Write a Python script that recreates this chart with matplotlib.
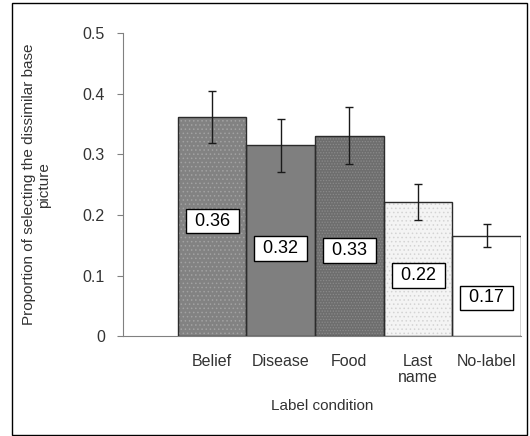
import matplotlib.pyplot as plt
from matplotlib.patches import Rectangle
import numpy as np

# data
conditions = ['Belief', 'Disease', 'Food', 'Last\nname', 'No-label']
proportion = [0.362, 0.315, 0.331, 0.221, 0.166]
errors = [0.043, 0.044, 0.047, 0.030, 0.019]
value_labels = ['0.36', '0.32', '0.33', '0.22', '0.17']

# styles
face_cols = ['#828282', '#7f7f7f', '#6e6e6e', '#f4f4f4', '#ffffff']
hatch_cols = ['#a2a2a2', '#7f7f7f', '#8a8a8a', '#d4d4d4', '#ffffff']
hatches = ['....', None, '......', '....', None]
label_y = [0.19, 0.145, 0.142, 0.10, 0.063]

plt.rcParams['font.family'] = 'Liberation Sans'
plt.rcParams['hatch.linewidth'] = 0.6

fig = plt.figure(figsize=(5.3, 4.36), dpi=100)
ax = fig.add_axes([0.232, 0.229, 0.751, 0.695])

x = np.arange(len(conditions))
# hatch layer, then outline layer
for i in range(len(x)):
    ax.bar(x[i], proportion[i], width=1.0, color=face_cols[i],
           edgecolor=hatch_cols[i], hatch=hatches[i], linewidth=0, zorder=2)
ax.bar(x, proportion, width=1.0, fill=False, edgecolor='#2b2b2b',
       linewidth=1.0, zorder=3)
ax.errorbar(x, proportion, yerr=errors, fmt='none', ecolor='#1a1a1a',
            elinewidth=1.0, capsize=3, capthick=1.0, zorder=4)

for i in range(len(x)):
    ax.text(x[i], label_y[i], ' ' + value_labels[i] + ' ', ha='center', va='center',
            fontsize=13, color='black', zorder=5,
            bbox=dict(boxstyle='square,pad=0.22', fc='white', ec='black', lw=1))

ax.set_xlim(-1.3, 4.5)
ax.set_ylim(0, 0.5)
ax.set_yticks([0, 0.1, 0.2, 0.3, 0.4, 0.5])
ax.set_yticklabels(['0', '0.1', '0.2', '0.3', '0.4', '0.5'])
ax.set_xticks(x)
ax.set_xticklabels(conditions, linespacing=1.05)
ax.tick_params(axis='y', direction='out', length=4, color='#808080',
               labelsize=11.5, labelcolor='#333333', pad=9)
ax.tick_params(axis='x', length=0, labelsize=11.5, labelcolor='#333333', pad=13)

for s in ['top', 'right']:
    ax.spines[s].set_visible(False)
ax.spines['left'].set_color('#808080')
ax.spines['bottom'].set_color('#808080')

ax.set_ylabel('Proportion of selecting the dissimilar base\npicture',
              fontsize=11, color='#333333', labelpad=23, linespacing=1.05)
ax.set_xlabel('Label condition', fontsize=11, color='#333333', labelpad=10)

# outer frame
fig.patches.append(Rectangle((12 / 530, 0.002), 515 / 530, 0.99, transform=fig.transFigure,
                             fill=False, edgecolor='black', linewidth=1.0))

fig.savefig('out.png', dpi=100)
